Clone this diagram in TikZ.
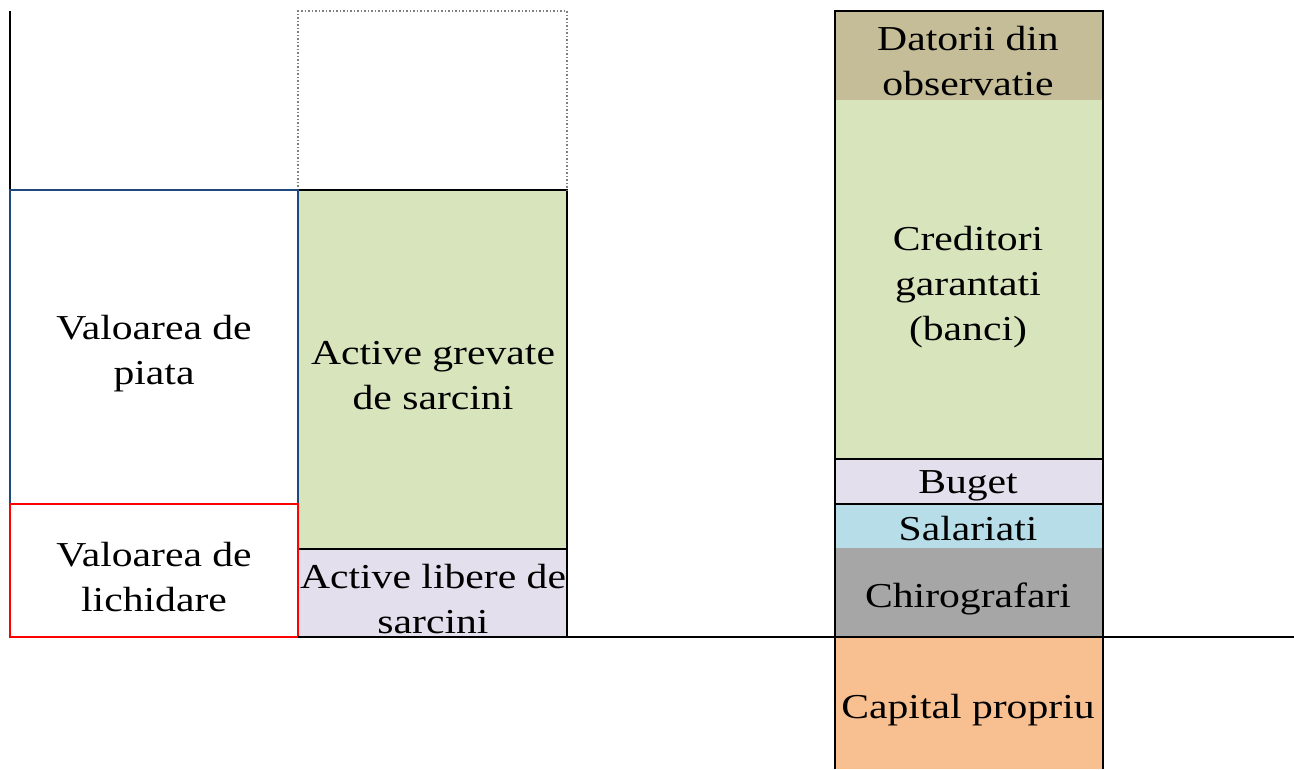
\documentclass[tikz,border=0pt]{standalone}
\usepackage{fontspec}
\setmainfont[FakeStretch=1.19]{Liberation Serif}
\definecolor{bluebd}{HTML}{1F497D}
\definecolor{greenf}{HTML}{D8E4BC}
\definecolor{lavf}{HTML}{E4DFEC}
\definecolor{tanf}{HTML}{C4BD97}
\definecolor{cyanf}{HTML}{B7DEE8}
\definecolor{grayf}{HTML}{A6A6A6}
\definecolor{orgf}{HTML}{F8C090}
\begin{document}
\begin{tikzpicture}[x=1pt,y=-1pt,
  lbl/.style={align=center,font=\fontsize{35}{45}\selectfont,inner sep=0pt},
  bd/.style={line width=2pt}]
\useasboundingbox (0,0) rectangle (1294,769);
% left column fills and borders
\fill[greenf] (298,190) rectangle (567,549);
\fill[lavf] (298,549) rectangle (567,637);
\draw[bd] (298,190) rectangle (567,549);
\draw[bd] (298,549) rectangle (567,637);
\draw[gray,line width=1.5pt,dotted] (298,190) -- (298,11) -- (567,11) -- (567,190);
\draw[bd] (10,11) -- (10,190);
\draw[bd,bluebd] (10,190) rectangle (298,504);
\draw[bd,red] (10,504) rectangle (298,637);
% right column
\fill[tanf] (835,11) rectangle (1103,100);
\fill[greenf] (835,100) rectangle (1103,459);
\fill[lavf] (835,459) rectangle (1103,504);
\fill[cyanf] (835,504) rectangle (1103,548);
\fill[grayf] (835,548) rectangle (1103,637);
\fill[orgf] (835,637) rectangle (1103,769);
\draw[bd] (835,459) -- (1103,459);
\draw[bd] (835,504) -- (1103,504);
\draw[bd] (835,769) -- (835,11) -- (1103,11) -- (1103,769);
\draw[bd] (298,637) -- (1294,637);
% labels
\node[lbl] (vp) at (154,354) {Valoarea de\\piata};
\node[lbl] (vl) at (154,577) {Valoarea de\\lichidare};
\node[lbl] (ag) at (433,376) {Active grevate\\de sarcini};
\node[lbl] (al) at (433,599) {Active libere de\\sarcini};
\node[lbl] (dt) at (968,61) {Datorii din\\observatie};
\node[lbl] (cg) at (968,287) {Creditori\\garantati\\(banci)};
\node[lbl] (bg) at (968,486) {Buget};
\node[lbl] (sl) at (968,529) {Salariati};
\node[lbl] (ch) at (968,599) {Chirografari};
\node[lbl] (cp) at (968,710) {Capital propriu};
\end{tikzpicture}
\end{document}
